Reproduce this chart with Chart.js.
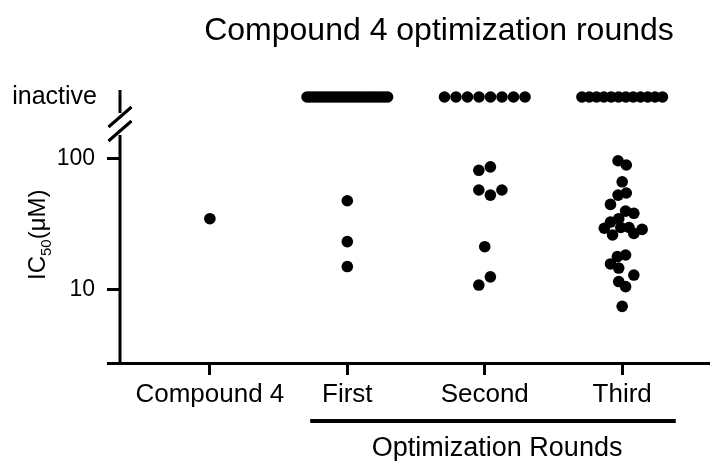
<!DOCTYPE html>
<html>
<head>
<meta charset="utf-8">
<script src="https://cdn.jsdelivr.net/npm/chart.js@4.4.1/dist/chart.umd.min.js"></script>
<style>
  html, body { margin: 0; padding: 0; background: #fff; }
</style>
</head>
<body>
<canvas id="chart" width="714" height="461"></canvas>
<script>
const groups = ['Compound 4', 'First', 'Second', 'Third'];

// IC50 values (uM), one list per column
const compound4Values = [35];
const firstValues = [48, 23.4, 15.1];
const secondValues = [82, 87, 58, 53, 58, 21.4, 12.6, 10.9];
const thirdValues = [97, 90, 67, 53, 55, 45, 40, 38.5, 33, 35, 29.6, 26.3,
                     30, 30, 27, 29, 18.5, 18, 15.8, 14.7, 13, 11.6, 10.6, 7.5];

// sideways scatter of each dot inside its column (category units)
const compound4Spread = [0];
const firstSpread = [0, 0, 0];
const secondSpread = [-0.043, 0.041, -0.043, 0.041, 0.125, 0, 0.041, -0.043];
const thirdSpread = [-0.03, 0.03, 0, -0.03, 0.03, -0.085, 0.025, 0.085, -0.085, -0.025, -0.13, -0.07,
                     -0.01, 0.05, 0.085, 0.145, 0.025, -0.035, -0.085, -0.025, 0.085, -0.025, 0.025, 0];

// number of inactive compounds per column
const inactiveCounts = [0, 26, 8, 12];

const yTicks = [10, 100];

const FONT = "'Liberation Sans', Arial, Helvetica, sans-serif";
Chart.defaults.font.family = FONT;
Chart.defaults.color = '#000';

const measured = [];
[[compound4Values, compound4Spread], [firstValues, firstSpread],
 [secondValues, secondSpread], [thirdValues, thirdSpread]].forEach(([vals, spread], g) => {
  vals.forEach((v, i) => measured.push({ x: g + spread[i], y: v }));
});

// inactive dots are laid side by side across a fixed row width
const rowHalf = 0.293;
const inactive = [];
inactiveCounts.forEach((n, g) => {
  for (let i = 0; i < n; i++) {
    const off = n > 1 ? -rowHalf + 2 * rowHalf * i / (n - 1) : 0;
    inactive.push({ x: g + off, y: 'inactive' });
  }
});

const decorations = {
  id: 'decorations',
  afterDraw(chart) {
    const { ctx, chartArea, scales } = chart;
    const yi = scales.yi, y = scales.y, x = scales.x;
    const axisX = chartArea.left;
    const breakY = y.top;
    ctx.save();
    ctx.strokeStyle = '#000';
    ctx.lineWidth = 3;

    // y axis with a break between "inactive" and the log part
    ctx.beginPath();
    ctx.moveTo(axisX, yi.getPixelForValue(0) - 7);
    ctx.lineTo(axisX, breakY - 11);
    ctx.moveTo(axisX, breakY + 11);
    ctx.lineTo(axisX, chartArea.bottom + 1.5);
    [-7, 7].forEach(d => {
      ctx.moveTo(axisX - 11.5, breakY + d + 10);
      ctx.lineTo(axisX + 11.5, breakY + d - 10);
    });
    ctx.stroke();

    // bracket under the optimization rounds
    ctx.lineWidth = 4;
    ctx.beginPath();
    ctx.moveTo(x.getPixelForValue(0.73), 421);
    ctx.lineTo(x.getPixelForValue(3.39), 421);
    ctx.stroke();

    ctx.fillStyle = '#000';
    ctx.textBaseline = 'alphabetic';
    ctx.textAlign = 'center';
    ctx.font = '27px ' + FONT;
    ctx.fillText('Optimization Rounds', x.getPixelForValue(2.09), 456);

    // title
    ctx.font = '32px ' + FONT;
    ctx.fillText('Compound 4 optimization rounds', 439, 40);

    // y axis title with subscript
    ctx.save();
    ctx.translate(45, 280);
    ctx.rotate(-Math.PI / 2);
    ctx.textAlign = 'left';
    ctx.font = '24px ' + FONT;
    let cx = 0;
    ctx.fillText('IC', cx, 0);
    cx += ctx.measureText('IC').width;
    ctx.font = '15px ' + FONT;
    ctx.fillText('50', cx, 6);
    cx += ctx.measureText('50').width;
    ctx.font = '24px ' + FONT;
    ctx.fillText('(\u03bcM)', cx, 0);
    ctx.restore();

    ctx.restore();
  }
};

new Chart(document.getElementById('chart'), {
  type: 'scatter',
  data: {
    datasets: [
      {
        label: 'IC50',
        data: measured,
        yAxisID: 'y',
        backgroundColor: '#000',
        borderWidth: 0,
        pointRadius: 5.8
      },
      {
        label: 'inactive',
        data: inactive,
        yAxisID: 'yi',
        backgroundColor: '#000',
        borderWidth: 0,
        pointRadius: 5.8
      }
    ]
  },
  options: {
    responsive: false,
    animation: false,
    layout: { padding: { top: 70, right: 2, left: 0, bottom: 0 } },
    plugins: {
      legend: { display: false },
      tooltip: { enabled: false },
      title: { display: false }
    },
    scales: {
      x: {
        type: 'linear',
        min: -0.654,
        max: 3.626,
        afterBuildTicks: s => { s.ticks = groups.map((g, i) => ({ value: i })); },
        ticks: {
          callback: v => groups[v],
          font: { size: 26 },
          padding: 4,
          maxRotation: 0,
          autoSkip: false
        },
        grid: { drawOnChartArea: false, color: '#000', lineWidth: 3, tickLength: 12 },
        border: { color: '#000', width: 3 },
        afterFit: s => { s.height = 98; }
      },
      y: {
        type: 'logarithmic',
        position: 'left',
        stack: 'left',
        stackWeight: 239,
        min: 2.77,
        max: 185,
        afterBuildTicks: s => { s.ticks = [s.min, ...yTicks].map(v => ({ value: v })); },
        ticks: {
          callback: v => yTicks.includes(v) ? String(v) : '',
          font: { size: 23 },
          padding: 12
        },
        grid: { drawOnChartArea: false, color: '#000', lineWidth: 3, tickLength: 13 },
        border: { display: false },
        afterFit: s => { s.width = 120; }
      },
      yi: {
        type: 'category',
        labels: ['inactive'],
        offset: true,
        position: 'left',
        stack: 'left',
        stackWeight: 54,
        ticks: { font: { size: 25 }, padding: 23 },
        grid: { display: false, drawTicks: false },
        border: { display: false },
        afterFit: s => { s.width = 120; }
      }
    }
  },
  plugins: [decorations]
});
</script>
</body>
</html>
